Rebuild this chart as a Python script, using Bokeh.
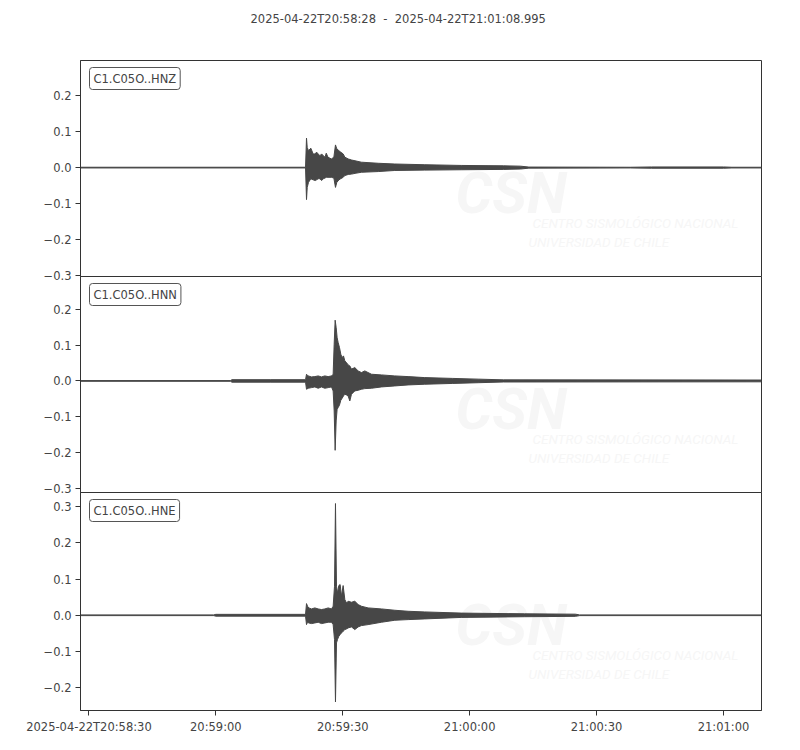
from datetime import datetime
from bokeh.plotting import figure
from bokeh.layouts import column
from bokeh.models import Range1d, FixedTicker, CustomJSTickFormatter, Label, Title
from bokeh.embed import file_html
from bokeh.resources import INLINE

# ---------------- data ----------------
start_time = "2025-04-22T20:58:28"
end_time = "2025-04-22T21:01:08.995"
channels = ["C1.C05O..HNZ", "C1.C05O..HNN", "C1.C05O..HNE"]

x_tick_times = ["2025-04-22T20:58:30", "2025-04-22T20:59:00", "2025-04-22T20:59:30",
                "2025-04-22T21:00:00", "2025-04-22T21:00:30", "2025-04-22T21:01:00"]
x_tick_labels = ["2025-04-22T20:58:30", "20:59:00", "20:59:30", "21:00:00", "21:00:30", "21:01:00"]
y_ticks = [-0.3, -0.2, -0.1, 0.0, 0.1, 0.2, 0.3]
y_lo = [-0.3025, -0.312, -0.263]
y_hi = [0.2975, 0.292, 0.339]

# envelopes (seconds after start, upper, lower)
t_hnz = [0.0, 53.2, 53.43, 53.6, 53.9, 54.45, 55.0, 55.5, 55.8, 56.2, 56.6, 57.0, 57.4, 57.8,
         58.1, 58.5, 59.3, 59.9, 60.28, 60.6, 61.1, 61.5, 62.1, 62.5, 63.3, 64.1, 64.9, 66.4,
         70.4, 74.3, 81.4, 90.0, 100.0, 104.0, 106.0, 130.0, 135.0, 152.0, 154.0, 161.0]
up_hnz = [0.001, 0.001, 0.082, 0.056, 0.047, 0.054, 0.038, 0.038, 0.043, 0.038, 0.033, 0.038,
          0.033, 0.029, 0.040, 0.029, 0.024, 0.029, 0.063, 0.052, 0.047, 0.043, 0.038, 0.029,
          0.024, 0.021, 0.019, 0.015, 0.012, 0.010, 0.008, 0.006, 0.005, 0.004, 0.0015, 0.001,
          0.0018, 0.0018, 0.001, 0.001]
lo_hnz = [-0.001, -0.001, -0.089, -0.055, -0.041, -0.031, -0.034, -0.036, -0.034, -0.031,
          -0.031, -0.036, -0.031, -0.029, -0.027, -0.027, -0.027, -0.029, -0.055, -0.041,
          -0.034, -0.031, -0.027, -0.022, -0.019, -0.018, -0.016, -0.013, -0.011, -0.008,
          -0.007, -0.006, -0.005, -0.004, -0.0015, -0.001, -0.0018, -0.0018, -0.001, -0.001]

t_hnn = [0.0, 35.5, 35.8, 45.0, 53.2, 53.43, 53.82, 54.61, 55.40, 56.19, 56.97, 57.76, 58.55,
         59.34, 59.73, 59.97, 60.20, 60.44, 60.67, 60.91, 61.23, 61.54, 61.85, 62.17, 62.49,
         62.88, 63.27, 63.67, 64.06, 64.85, 65.64, 66.42, 67.21, 68.79, 71.15, 74.30, 77.45,
         81.38, 88.0, 94.0, 100.0, 161.0]
up_hnn = [0.001, 0.001, 0.0035, 0.0035, 0.0035, 0.0187, 0.014, 0.0112, 0.0121, 0.014, 0.0112,
          0.014, 0.0121, 0.014, 0.0187, 0.1026, 0.1698, 0.1493, 0.1213, 0.1073, 0.0933, 0.0746,
          0.0653, 0.070, 0.056, 0.0513, 0.0448, 0.042, 0.033, 0.0373, 0.028, 0.0233, 0.028,
          0.0187, 0.0168, 0.014, 0.0121, 0.0093, 0.007, 0.005, 0.003, 0.0025]
lo_hnn = [-0.001, -0.001, -0.0035, -0.0035, -0.0035, -0.0233, -0.0205, -0.0187, -0.0168,
          -0.0205, -0.0168, -0.0205, -0.0187, -0.0168, -0.028, -0.084, -0.194, -0.1119,
          -0.0793, -0.0746, -0.0672, -0.0541, -0.0485, -0.042, -0.0373, -0.0392, -0.042,
          -0.056, -0.0373, -0.028, -0.0261, -0.0233, -0.0215, -0.0205, -0.0168, -0.014,
          -0.0112, -0.0093, -0.007, -0.005, -0.003, -0.0025]

t_hne = [0.0, 31.5, 32.0, 53.2, 53.43, 53.67, 53.98, 54.61, 55.40, 56.19, 56.97, 57.76, 58.55,
         59.34, 59.73, 60.05, 60.28, 60.52, 60.75, 61.07, 61.38, 61.70, 62.09, 62.49, 62.88,
         63.27, 64.06, 64.85, 65.64, 66.42, 68.00, 71.15, 74.30, 77.45, 81.38, 90.0, 105.0,
         117.0, 118.0, 161.0]
up_hne = [0.001, 0.001, 0.0025, 0.0025, 0.0322, 0.0249, 0.0203, 0.0175, 0.0203, 0.0175,
          0.0157, 0.0175, 0.0203, 0.0175, 0.0249, 0.0801, 0.3085, 0.0801, 0.0617, 0.082,
          0.0847, 0.0525, 0.082, 0.0433, 0.0341, 0.0387, 0.0359, 0.0387, 0.0295, 0.0249,
          0.0203, 0.0175, 0.0138, 0.011, 0.0092, 0.006, 0.004, 0.003, 0.001, 0.001]
lo_hne = [-0.001, -0.001, -0.0025, -0.0025, -0.0258, -0.0193, -0.0212, -0.023, -0.0212,
          -0.0193, -0.023, -0.0212, -0.0193, -0.0193, -0.0258, -0.0672, -0.2394, -0.0764,
          -0.0672, -0.058, -0.0534, -0.0488, -0.0442, -0.0396, -0.0378, -0.035, -0.0322,
          -0.0396, -0.0322, -0.0285, -0.0258, -0.0193, -0.0138, -0.012, -0.0101, -0.006,
          -0.004, -0.003, -0.001, -0.001]

traces = [(t_hnz, up_hnz, lo_hnz), (t_hnn, up_hnn, lo_hnn), (t_hne, up_hne, lo_hne)]

# ---------------- styling ----------------
TXT = "#444444"
TRACE = "#474747"
FRAME = "#333333"
WM = "#f6f6f6"
FONT = "DejaVu Sans"

t0 = datetime.fromisoformat(start_time)
t_end = (datetime.fromisoformat(end_time) - t0).total_seconds()
x_tick_secs = [(datetime.fromisoformat(s) - t0).total_seconds() for s in x_tick_times]
x_range = Range1d(0.0, t_end)

frame_heights = [216, 216, 218]
y_fmt_code = """
if (Math.abs(tick) < 1e-9) { return '0.0'; }
return (tick < 0 ? '\u2212' : '') + Math.abs(tick).toFixed(1);
"""

figs = []
for i in range(3):
    fh = frame_heights[i]
    p = figure(frame_width=681, frame_height=fh, x_range=x_range,
               y_range=Range1d(y_lo[i], y_hi[i]), title=None,
               output_backend="svg", toolbar_location=None,
               x_axis_location=("below" if i == 2 else None),
               min_border_left=80, min_border_right=30,
               min_border_top=(60 if i == 0 else 8),
               min_border_bottom=(30 if i == 2 else 8),
               border_fill_color=None, background_fill_color="white",
               outline_line_color=FRAME, outline_line_width=1)
    p.grid.visible = False

    yax = p.yaxis[0]
    yax.ticker = FixedTicker(ticks=y_ticks)
    yax.formatter = CustomJSTickFormatter(code=y_fmt_code)
    yax.major_tick_out = 5
    yax.major_tick_in = 0
    yax.minor_tick_out = 0
    yax.minor_tick_in = 0
    yax.major_label_standoff = 4
    yax.axis_line_color = FRAME
    yax.major_tick_line_color = FRAME
    yax.major_label_text_font = FONT
    yax.major_label_text_font_size = "11.5px"
    yax.major_label_text_color = TXT

    if i == 2:
        xax = p.xaxis[0]
        xax.ticker = FixedTicker(ticks=x_tick_secs)
        xax.major_label_overrides = {s: lab for s, lab in zip(x_tick_secs, x_tick_labels)}
        xax.major_tick_out = 5
        xax.major_tick_in = 0
        xax.minor_tick_out = 0
        xax.minor_tick_in = 0
        xax.major_label_standoff = 4
        xax.axis_line_color = FRAME
        xax.major_tick_line_color = FRAME
        xax.major_label_text_font = FONT
        xax.major_label_text_font_size = "11.5px"
        xax.major_label_text_color = TXT

    # faint watermark
    p.add_layout(Label(x=375, y=fh - 98, x_units="screen", y_units="screen", text="CSN",
                       anchor="top_left", text_font="Roboto", text_font_style="bold italic",
                       text_font_size="58px", text_color=WM, level="underlay"))
    p.add_layout(Label(x=452, y=fh - 154, x_units="screen", y_units="screen",
                       text="CENTRO SISMOLÓGICO NACIONAL", anchor="top_left",
                       text_font="Roboto", text_font_style="italic",
                       text_font_size="13.5px", text_color=WM, level="underlay"))
    p.add_layout(Label(x=448, y=fh - 173, x_units="screen", y_units="screen",
                       text="UNIVERSIDAD DE CHILE", anchor="top_left",
                       text_font="Roboto", text_font_style="italic",
                       text_font_size="13.5px", text_color=WM, level="underlay"))

    t, up, lo = traces[i]
    p.varea(x=t, y1=lo, y2=up, fill_color=TRACE, fill_alpha=1.0)
    p.line(t, up, line_color=TRACE, line_width=1)
    p.line(t, lo, line_color=TRACE, line_width=1)

    p.add_layout(Label(x=9, y=fh - 7, x_units="screen", y_units="screen", text=channels[i],
                       anchor="top_left", text_font=FONT, text_font_size="11.5px",
                       text_color=TXT, padding=4, border_line_color="#555555",
                       border_line_width=1, border_radius=3,
                       background_fill_color="white"))

    if i == 0:
        # white (invisible) spacer next to the frame, then the real title further out
        p.add_layout(Title(text="\u200b", text_font_size="1px", standoff=32,
                           text_color="white"), "above")
        p.add_layout(Title(text=f"{start_time}\u00a0\u00a0-\u00a0\u00a0{end_time}",
                           align="left", offset=170, standoff=0, text_font=FONT,
                           text_font_size="11.5px", text_font_style="normal",
                           text_color=TXT), "above")
    else:
        p.margin = (-16, 0, 0, 0)
    figs.append(p)

layout = column(*figs, spacing=0)
open("out.html", "w").write(file_html(layout, INLINE))
